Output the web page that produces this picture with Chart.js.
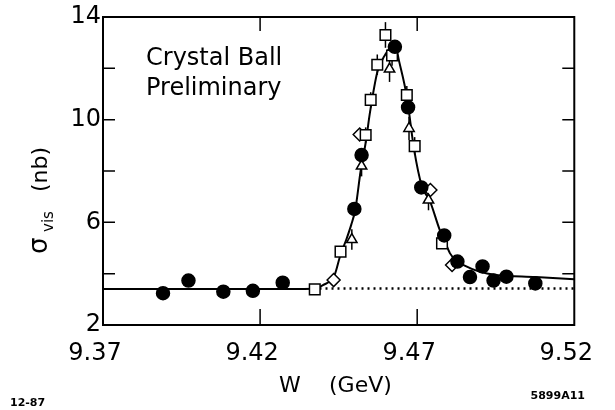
<!DOCTYPE html>
<html lang="en">
<head>
    <meta charset="UTF-8">
    <title>Crystal Ball - visible cross section</title>
    <script src="https://cdn.jsdelivr.net/npm/chart.js"></script>
    <style>
        html, body {
            margin: 0;
            padding: 0;
            background: white;
        }
        .chart-container {
            position: relative;
            width: 615px;
            height: 410px;
        }
    </style>
</head>
<body>
    <div class="chart-container">
        <canvas id="scanChart"></canvas>
    </div>

    <script>
        // beam energy W (GeV) and visible cross section (nb) for each data set
        const circleW = [9.3891, 9.3972, 9.4083, 9.4177, 9.4272, 9.4500, 9.4523, 9.4629, 9.4671, 9.4713, 9.4786, 9.4828, 9.4868, 9.4908, 9.4943, 9.4984, 9.5076];
        const circleS = [3.24, 3.73, 3.30, 3.33, 3.65, 6.52, 8.62, 12.84, 10.48, 7.36, 5.49, 4.47, 3.87, 4.28, 3.73, 3.88, 3.62];

        const squareW = [9.4374, 9.4456, 9.4536, 9.4552, 9.4573, 9.4599, 9.4620, 9.4667, 9.4692, 9.4779];
        const squareS = [3.39, 4.86, 9.40, 10.77, 12.14, 13.30, 12.50, 10.96, 8.97, 5.18];
        const squareErr = [0, 0, 0.3, 0.3, 0.4, 0.5, 0.4, 0.35, 0.35, 0];

        const triangleW = [9.4492, 9.4523, 9.4612, 9.4674, 9.4736];
        const triangleS = [5.33, 8.19, 11.97, 9.66, 6.87];
        const triangleErr = [0.4, 0.4, 0.5, 0.45, 0.4];

        const diamondW = [9.4434, 9.4517, 9.4742, 9.4811];
        const diamondS = [3.75, 9.42, 7.26, 4.34];

        // fitted resonance curve
        const fitW = [9.370, 9.430, 9.4370, 9.4400, 9.4437, 9.4455, 9.4475, 9.4490, 9.4503, 9.4520, 9.4536, 9.4550, 9.4573, 9.4599, 9.4618, 9.4630, 9.4642, 9.4667, 9.4690, 9.4715, 9.4740, 9.4772, 9.4787, 9.4804, 9.4825, 9.4846, 9.4898, 9.4951, 9.5077, 9.5200];
        const fitS = [3.40, 3.40, 3.41, 3.55, 3.95, 4.70, 5.35, 5.90, 6.50, 8.00, 9.10, 10.30, 11.85, 12.55, 12.85, 12.90, 12.30, 10.90, 8.85, 7.40, 6.85, 5.70, 5.30, 4.80, 4.50, 4.34, 4.08, 3.95, 3.87, 3.78];

        // continuum level under the peak
        const contW = [9.437, 9.520];
        const contS = [3.42, 3.42];

        const xTicks = [9.37, 9.42, 9.47, 9.52];
        const yTicks = [2, 4, 6, 8, 10, 12, 14];
        const yLabelled = [2, 6, 10, 14];

        const pts = (ws, ss) => ws.map((w, i) => ({ x: w, y: ss[i] }));
        const FONT = '"DejaVu Sans", sans-serif';

        const overlay = {
            id: 'overlay',
            beforeDatasetsDraw(chart) {
                // error bars sit under the markers
                const { ctx, scales: { x, y } } = chart;
                ctx.save();
                ctx.strokeStyle = '#000';
                ctx.lineWidth = 1.5;
                [[squareW, squareS, squareErr], [triangleW, triangleS, triangleErr]].forEach(([ws, ss, es]) => {
                    ws.forEach((w, i) => {
                        if (!es[i]) return;
                        const px = x.getPixelForValue(w);
                        ctx.beginPath();
                        ctx.moveTo(px, y.getPixelForValue(ss[i] - es[i]));
                        ctx.lineTo(px, y.getPixelForValue(ss[i] + es[i]));
                        ctx.stroke();
                    });
                });
                ctx.restore();
            },
            afterDraw(chart) {
                const { ctx, chartArea: a, scales: { x, y } } = chart;
                ctx.save();
                ctx.strokeStyle = '#000';
                ctx.fillStyle = '#000';

                // frame
                ctx.lineWidth = 2;
                ctx.strokeRect(a.left, a.top, a.right - a.left, a.bottom - a.top);

                // inward tick marks on all four sides
                ctx.lineWidth = 1.5;
                ctx.beginPath();
                xTicks.slice(1, -1).forEach(v => {
                    const px = x.getPixelForValue(v);
                    ctx.moveTo(px, a.bottom); ctx.lineTo(px, a.bottom - 16);
                    ctx.moveTo(px, a.top); ctx.lineTo(px, a.top + 14);
                });
                yTicks.slice(1, -1).forEach(v => {
                    const py = y.getPixelForValue(v);
                    ctx.moveTo(a.left, py); ctx.lineTo(a.left + 12, py);
                    ctx.moveTo(a.right, py); ctx.lineTo(a.right - 12, py);
                });
                ctx.stroke();

                // experiment note
                ctx.font = '24px ' + FONT;
                ctx.textBaseline = 'alphabetic';
                ctx.textAlign = 'left';
                ctx.fillText('Crystal Ball', a.left + 43, a.top + 48);
                ctx.fillText('Preliminary', a.left + 43, a.top + 78);

                // x axis title
                ctx.font = '22px ' + FONT;
                ctx.textAlign = 'left';
                ctx.fillText('W', 279, 392);
                ctx.fillText('(GeV)', 329, 392);

                // y axis title, rotated
                ctx.translate(47, 254);
                ctx.rotate(-Math.PI / 2);
                ctx.font = '26px ' + FONT;
                ctx.fillText('\u03c3', 0, 0);
                ctx.font = '15px ' + FONT;
                ctx.fillText('vis', 22, 6);
                ctx.font = '22px ' + FONT;
                ctx.fillText('(nb)', 62, 0);
                ctx.restore();

                // figure codes
                ctx.save();
                ctx.fillStyle = '#000';
                ctx.font = 'bold 11px ' + FONT;
                ctx.textAlign = 'left';
                ctx.fillText('12-87', 10, 406);
                ctx.textAlign = 'right';
                ctx.fillText('5899A11', 585, 399);
                ctx.restore();
            }
        };

        const marker = (style, r, filled) => ({
            type: 'scatter',
            pointStyle: style,
            pointRadius: r,
            pointHoverRadius: r,
            pointBackgroundColor: filled ? '#000' : '#fff',
            pointBorderColor: '#000',
            pointBorderWidth: 1.5
        });

        const ctx = document.getElementById('scanChart').getContext('2d');
        new Chart(ctx, {
            data: {
                datasets: [
                    {
                        type: 'line',
                        data: pts(contW, contS),
                        borderColor: '#000',
                        borderWidth: 2.5,
                        borderDash: [2, 4],
                        pointRadius: 0,
                        order: 6
                    },
                    {
                        type: 'line',
                        data: pts(fitW, fitS),
                        borderColor: '#000',
                        borderWidth: 2,
                        pointRadius: 0,
                        cubicInterpolationMode: 'monotone',
                        order: 5
                    },
                    { ...marker('rectRot', 6.5, false), data: pts(diamondW, diamondS), order: 4 },
                    { ...marker('triangle', 6, false), data: pts(triangleW, triangleS), order: 3 },
                    { ...marker('rect', 7.5, false), data: pts(squareW, squareS), order: 2 },
                    { ...marker('circle', 6.5, true), data: pts(circleW, circleS), order: 1 }
                ]
            },
            options: {
                responsive: true,
                maintainAspectRatio: false,
                animation: false,
                layout: { padding: { left: 0, top: 17, right: 36, bottom: 0 } },
                plugins: {
                    legend: { display: false },
                    tooltip: { enabled: false }
                },
                scales: {
                    x: {
                        type: 'linear',
                        min: 9.37,
                        max: 9.52,
                        afterBuildTicks: s => { s.ticks = xTicks.map(v => ({ value: v })); },
                        afterFit: s => { s.height = 85; },
                        grid: { display: false, drawTicks: false },
                        border: { display: false },
                        ticks: {
                            color: '#000',
                            padding: 14,
                            labelOffset: -8,
                            maxRotation: 0,
                            font: { family: FONT, size: 24 },
                            callback: v => v.toFixed(2)
                        }
                    },
                    y: {
                        min: 2,
                        max: 14,
                        afterBuildTicks: s => { s.ticks = yTicks.map(v => ({ value: v })); },
                        afterFit: s => { s.width = 103; },
                        grid: { display: false, drawTicks: false },
                        border: { display: false },
                        ticks: {
                            color: '#000',
                            padding: 2,
                            font: { family: FONT, size: 24 },
                            callback: v => yLabelled.includes(v) ? v : ''
                        }
                    }
                }
            },
            plugins: [overlay]
        });
    </script>
</body>
</html>
